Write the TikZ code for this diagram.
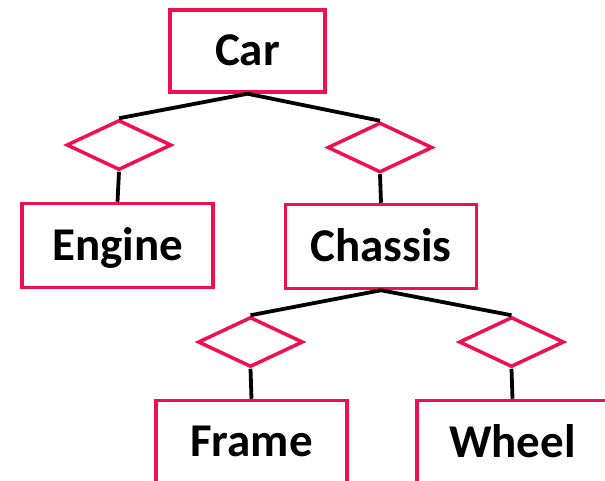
\documentclass[tikz,border=0pt]{standalone}
\usepackage{fontspec}
\setmainfont{Carlito}
\usetikzlibrary{shapes.geometric}

\definecolor{erred}{RGB}{240,16,80}

\tikzset{
	entity/.style={draw=erred,line width=3.5pt,rectangle,inner sep=0pt,
		minimum width=191pt,minimum height=84pt,text depth=2pt,
		font=\fontsize{47}{50}\selectfont\bfseries},
	rel/.style={draw=erred,line width=3.5pt,diamond,inner sep=0pt,
		minimum width=105pt,minimum height=50pt},
	link/.style={draw=black,line width=3.8pt}
}

\begin{document}
\begin{tikzpicture}[x=1pt,y=-1pt]

\useasboundingbox (0,0) rectangle (605,481);
\clip (0,0) rectangle (605,481);

\node [entity,minimum width=155pt,minimum height=82pt] (car) at (247.5,51) {Car};
\node [entity] (engine) at (117.5,245.5) {Engine};
\node [entity] (chassis) at (381,246.5) {Chassis};
\node [entity] (frame) at (251.5,442.5) {Frame};
\node [entity] (wheel) at (512.5,442.5) {Wheel};

\node [rel] (hasEngine) at (119,145) {};
\node [rel] (hasChassis) at (380,147.5) {};
\node [rel] (hasFrame) at (250.5,342) {};
\node [rel] (hasWheel) at (511.5,342) {};

\draw [link] (car.south) -- (hasEngine.north)
	(car.south) -- (hasChassis.north)
	(hasEngine.south) -- (engine.north)
	(hasChassis.south) -- (chassis.north)
	(chassis.south) -- (hasFrame.north)
	(chassis.south) -- (hasWheel.north)
	(hasFrame.south) -- (frame.north)
	(hasWheel.south) -- (wheel.north);

\end{tikzpicture}
\end{document}
